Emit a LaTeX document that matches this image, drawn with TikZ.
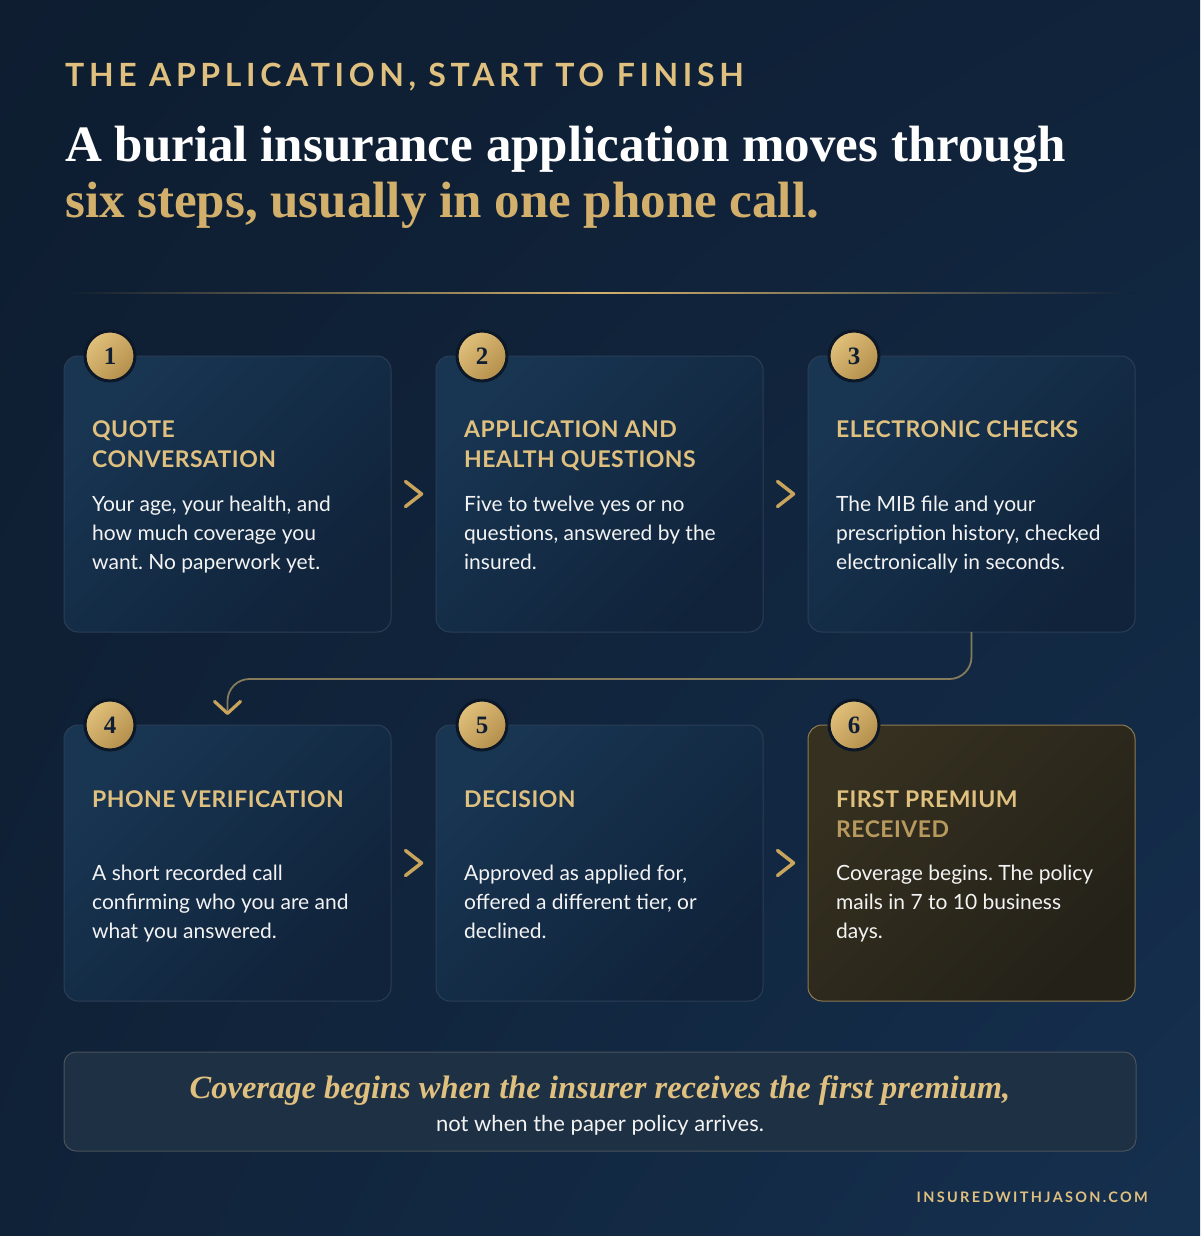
\documentclass[tikz,border=0pt]{standalone}
\usepackage{fontspec}
\setmainfont{Lato}
\newfontfamily\titlefont{Liberation Serif}
\newfontfamily\quotefont{Liberation Serif}
\newfontfamily\kickfont{Lato}[LetterSpace=14.5]
\newfontfamily\headfont{Lato}[LetterSpace=2]
\newfontfamily\sitefont{Lato}[LetterSpace=16]
\usetikzlibrary{arrows.meta, positioning, calc, shadings}
\frenchspacing
\definecolor{bgTL}{HTML}{0E1D30}
\definecolor{bgTR}{HTML}{10233B}
\definecolor{bgBL}{HTML}{102238}
\definecolor{bgBR}{HTML}{15304F}
\definecolor{cardA}{HTML}{183552}
\definecolor{cardB}{HTML}{10233A}
\definecolor{cardline}{HTML}{2B3E56}
\definecolor{lastA}{HTML}{35301F}
\definecolor{lastB}{HTML}{242119}
\definecolor{lastline}{HTML}{8F7B52}
\definecolor{gold}{HTML}{DFC07F}
\definecolor{golddim}{HTML}{B89A5E}
\definecolor{goldtitle}{HTML}{D2B06C}
\definecolor{badgeA}{HTML}{E0C07A}
\definecolor{badgeB}{HTML}{B48F4C}
\definecolor{badgerim}{HTML}{0C1828}
\definecolor{chevgold}{HTML}{C8A45C}
\definecolor{linkgold}{HTML}{867B5B}
\definecolor{notefill}{HTML}{1E3043}
\definecolor{noteline}{HTML}{4B525B}
\definecolor{ink}{HTML}{F3F3F3}
\definecolor{navy}{HTML}{0F1E33}

\begin{document}
\begin{tikzpicture}[
  x=1pt, y=-1pt,
  node distance=93pt and 45pt,
  card/.style={draw=cardline, line width=1pt, rounded corners=14pt, outer sep=0pt,
               minimum width=327pt, minimum height=276pt,
               top color=cardA, bottom color=cardB, shading angle=45},
  cardlast/.style={card, draw=lastline, top color=lastA, bottom color=lastB, shading angle=45},
  badge/.style={circle, minimum size=50pt, inner sep=0pt, draw=badgerim, line width=3pt,
                top color=badgeA, bottom color=badgeB, shading angle=45, text=navy,
                font=\titlefont\bfseries\fontsize{25}{25}\selectfont},
  head/.style={anchor=north west, inner sep=0pt, align=left, text=gold,
               font=\headfont\bfseries\fontsize{23}{30}\selectfont},
  body/.style={anchor=north west, inner sep=0pt, align=left, text=ink,
               font=\fontsize{21}{29}\selectfont},
  chev/.style={draw=chevgold, line width=3.5pt, line cap=round, line join=round},
  link/.style={draw=linkgold, line width=1.8pt, rounded corners=22pt,
               -{Straight Barb[length=12pt, width=26pt, line width=3.2pt, round, color=chevgold]}},
  note/.style={draw=noteline, line width=1pt, rounded corners=12pt, fill=notefill,
               minimum width=1072pt, minimum height=99pt, outer sep=0pt}
]
  % backdrop and rule
  \shade[upper left=bgTL, upper right=bgTR, lower left=bgBL, lower right=bgBR]
    (0,0) rectangle (1200,1236);
  \shade[left color=bgTL, right color=bgTR, middle color=goldtitle]
    (65,292.4) rectangle (1135,293.8);

  % header
  \node[anchor=base west, inner sep=0pt, text=gold, font=\kickfont\bfseries\fontsize{32}{32}\selectfont]
    (kick) at (65,87) {THE APPLICATION, START TO FINISH};
  \node[anchor=base west, inner sep=0pt, text=white, font=\titlefont\bfseries\fontsize{51}{56}\selectfont]
    (ttl1) at (65,161) {A burial insurance application moves through};
  \node[anchor=base west, inner sep=0pt, text=goldtitle, font=\titlefont\bfseries\fontsize{51}{56}\selectfont]
    (ttl2) at (65,217) {six steps, usually in one phone call.};

  % the six steps
  \node[card, anchor=north west] (c1) at (64,356) {};
  \node[card, right=of c1] (c2) {};
  \node[card, right=of c2] (c3) {};
  \node[card, below=of c1] (c4) {};
  \node[card, right=of c4] (c5) {};
  \node[cardlast, right=of c5] (c6) {};

  \foreach \i in {1,...,6}
    \node[badge] (n\i) at ([xshift=46pt]c\i.north west) {\i};

  \node[head] (h1) at ([shift={(28,64)}]c1.north west) {QUOTE\\CONVERSATION};
  \node[head] (h2) at ([shift={(28,64)}]c2.north west) {APPLICATION AND\\HEALTH QUESTIONS};
  \node[head] (h3) at ([shift={(28,64)}]c3.north west) {ELECTRONIC CHECKS};
  \node[head] (h4) at ([shift={(28,65)}]c4.north west) {PHONE VERIFICATION};
  \node[head] (h5) at ([shift={(28,65)}]c5.north west) {DECISION};
  \node[head] (h6) at ([shift={(28,65)}]c6.north west) {FIRST PREMIUM\\\textcolor{golddim}{RECEIVED}};

  \node[body] (t1) at ([shift={(28,140)}]c1.north west) {Your age, your health, and\\how much coverage you\\want. No paperwork yet.};
  \node[body] (t2) at ([shift={(28,140)}]c2.north west) {Five to twelve yes or no\\questions, answered by the\\insured.};
  \node[body] (t3) at ([shift={(28,140)}]c3.north west) {The MIB file and your\\prescription history, checked\\electronically in seconds.};
  \node[body] (t4) at ([shift={(28,140)}]c4.north west) {A short recorded call\\confirming who you are and\\what you answered.};
  \node[body] (t5) at ([shift={(28,140)}]c5.north west) {Approved as applied for,\\offered a different tier, or\\declined.};
  \node[body] (t6) at ([shift={(28,140)}]c6.north west) {Coverage begins. The policy\\mails in 7 to 10 business\\days.};

  % flow
  \foreach \a/\b in {c1/c2, c2/c3, c4/c5, c5/c6}
    \draw[chev] ($(\a.east)!.5!(\b.west)+(-8,-12.5)$) -- ++(16,12.5) -- ++(-16,12.5);
  \coordinate (drop) at ([yshift=10pt]c4.north);
  \draw[link] (c3.south) -- ++(0,47) -| (drop);

  % closing note
  \node[note, anchor=north west] (note) at (64,1052) {};
  \node[anchor=base, inner sep=0pt, text=gold, font=\quotefont\bfseries\itshape\fontsize{32.5}{32.5}\selectfont]
    (q1) at ([yshift=3.5pt]note.center) {Coverage begins when the insurer receives the first premium,};
  \node[anchor=base, inner sep=0pt, text=ink, font=\fontsize{22}{22}\selectfont]
    (q2) at ([yshift=-29.5pt]note.center) {not when the paper policy arrives.};

  \node[anchor=base east, inner sep=0pt, text=gold, font=\sitefont\bfseries\fontsize{14.5}{14.5}\selectfont]
    (site) at (1148,1202) {INSUREDWITHJASON.COM};
\end{tikzpicture}
\end{document}
